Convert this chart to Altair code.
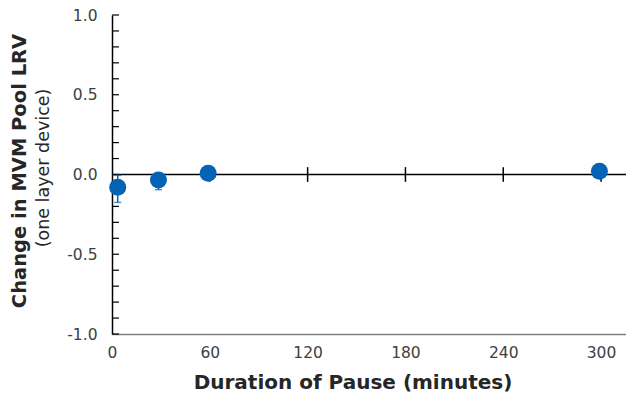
import altair as alt
import pandas as pd

# data
pause_min = [3.5, 28.5, 59, 299]
lrv_change = [-0.08, -0.035, 0.008, 0.02]
err_low = [-0.175, -0.095, 0.008, 0.02]
err_high = [-0.005, 0.01, 0.008, 0.02]

x_ticks = [0, 60, 120, 180, 240, 300]
y_ticks = [-1.0, -0.5, 0.0, 0.5, 1.0]
y_minor = [-1.0, -0.9, -0.8, -0.7, -0.6, -0.5, -0.4, -0.3, -0.2, -0.1, 0.0,
           0.1, 0.2, 0.3, 0.4, 0.5, 0.6, 0.7, 0.8, 0.9, 1.0]
zero_ticks = [60, 120, 180, 240, 300]

FONT = "DejaVu Sans"
BLUE = "#0563B6"
W, H = 514, 319

df = pd.DataFrame({"x": pause_min, "y": lrv_change, "lo": err_low, "hi": err_high})
minor_df = pd.DataFrame({"y": y_minor})
zt_df = pd.DataFrame({"x": zero_ticks, "y1": [-0.046] * len(zero_ticks), "y2": [0.046] * len(zero_ticks)})

xs = alt.Scale(domain=[0, 315.3], nice=False, zero=False)
ys = alt.Scale(domain=[-1, 1], nice=False)

xax = alt.Axis(
    values=x_ticks, title=None, grid=False, ticks=False, domainColor="#7f7f7f",
    domainWidth=1.5, labelFont=FONT, labelFontSize=15.5, labelColor="#404040",
    labelPadding=11, labelFlush=False)
yax = alt.Axis(
    values=y_ticks, format=".1f", title=None, grid=False, ticks=False,
    domainColor="#000000", domainWidth=1.5, labelFont=FONT, labelFontSize=15.5,
    labelColor="#404040", labelPadding=15, labelFlush=False,
    labelExpr="replace(datum.label, '\u2212', '-')")


def X(f):
    return alt.X(f, type="quantitative", scale=xs, axis=xax)


def Y(f):
    return alt.Y(f, type="quantitative", scale=ys, axis=yax)


minor = alt.Chart(minor_df).mark_rule(color="black", strokeWidth=1.2).encode(
    y=Y("y"), x=alt.value(0), x2=alt.value(7))

zero_line = alt.Chart(pd.DataFrame({"y": [0.0]})).mark_rule(color="black", strokeWidth=1.5).encode(
    y=Y("y"), x=alt.value(0), x2=alt.value(W))

zero_ticks_layer = alt.Chart(zt_df).mark_rule(color="black", strokeWidth=1.5).encode(
    x=X("x"), y=Y("y1"), y2="y2:Q")

err = alt.Chart(df).mark_rule(color=BLUE, strokeWidth=1.5).encode(
    x=X("x"), y=Y("lo"), y2="hi:Q")
cap_lo = alt.Chart(df).mark_tick(color=BLUE, orient="horizontal", size=7, thickness=1.5).encode(
    x=X("x"), y=Y("lo"))
cap_hi = alt.Chart(df).mark_tick(color=BLUE, orient="horizontal", size=7, thickness=1.5).encode(
    x=X("x"), y=Y("hi"))

pts = alt.Chart(df).mark_circle(color=BLUE, opacity=1, size=290).encode(x=X("x"), y=Y("y"))

ytitle = alt.Chart(pd.DataFrame({"t": ["Change in MVM Pool LRV"]})).mark_text(
    angle=270, font=FONT, fontSize=19.5, fontWeight="bold", color="#262626",
    align="center", baseline="middle").encode(
    text="t:N", x=alt.value(-92), y=alt.value(156))
ysub = alt.Chart(pd.DataFrame({"t": ["(one layer device)"]})).mark_text(
    angle=270, font=FONT, fontSize=17.5, color="#262626",
    align="center", baseline="middle").encode(
    text="t:N", x=alt.value(-68), y=alt.value(153))
xtitle = alt.Chart(pd.DataFrame({"t": ["Duration of Pause (minutes)"]})).mark_text(
    font=FONT, fontSize=20, fontWeight="bold", color="#262626",
    align="center", baseline="middle").encode(
    text="t:N", x=alt.value(241), y=alt.value(368))

chart = alt.layer(minor, zero_line, zero_ticks_layer, err, cap_lo, cap_hi, pts,
                  ytitle, ysub, xtitle).properties(
    width=W, height=H,
    background="white",
    autosize=alt.AutoSizeParams(type="none"),
    padding={"left": 104, "top": 7, "right": 0, "bottom": 59},
).configure_view(strokeWidth=0, stroke="transparent")

chart.save("out.html", embed_options={"renderer": "svg", "actions": False})
